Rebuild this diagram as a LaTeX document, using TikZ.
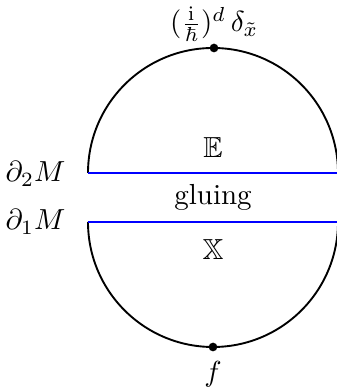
\documentclass[tikz,border=0pt]{standalone}
\usepackage{amssymb}
\begin{document}
\begin{tikzpicture}[x=0.3448pt,y=0.3448pt,
  arcline/.style={line width=0.65pt},
  blueline/.style={blue,line width=0.65pt},
  dotmark/.style={circle,fill=black,inner sep=0pt,minimum size=3pt}]
\useasboundingbox (0,0) rectangle (337,391);
% coordinates
\coordinate (uc) at (213,218);
\coordinate (lc) at (213,169);
\coordinate (ul) at (88,218);
\coordinate (ur) at (338,218);
\coordinate (ll) at (88,169);
\coordinate (lr) at (338,169);
% arcs
\draw[arcline] (ul) arc[start angle=180,end angle=0,radius=125];
\draw[arcline] (ll) arc[start angle=180,end angle=360,radius=125];
% blue boundaries
\draw[blueline] (ul) -- (ur);
\draw[blueline] (ll) -- (lr);
% dots
\node[dotmark] (top) at (214,343) {};
\node[dotmark] (bot) at (213,44) {};
\node[anchor=base west,inner sep=0pt] (tl) at (169.5,359) {$(\frac{\mathrm{i}}{\hbar})^d\,\delta_{\tilde{x}}$};
\node[anchor=north,inner sep=3pt] (fl) at (bot.south) {$f$};
% side labels
\node[anchor=base east,inner sep=0pt] (d2) at (66,209) {$\partial_2M$};
\node[anchor=base east,inner sep=0pt] (d1) at (66,161) {$\partial_1M$};
% inner labels
\node (E) at (213,243) {$\mathbb{E}$};
\node[anchor=base,inner sep=0pt] (g) at (213,186) {gluing};
\node (X) at (213,141) {$\mathbb{X}$};
\end{tikzpicture}
\end{document}
